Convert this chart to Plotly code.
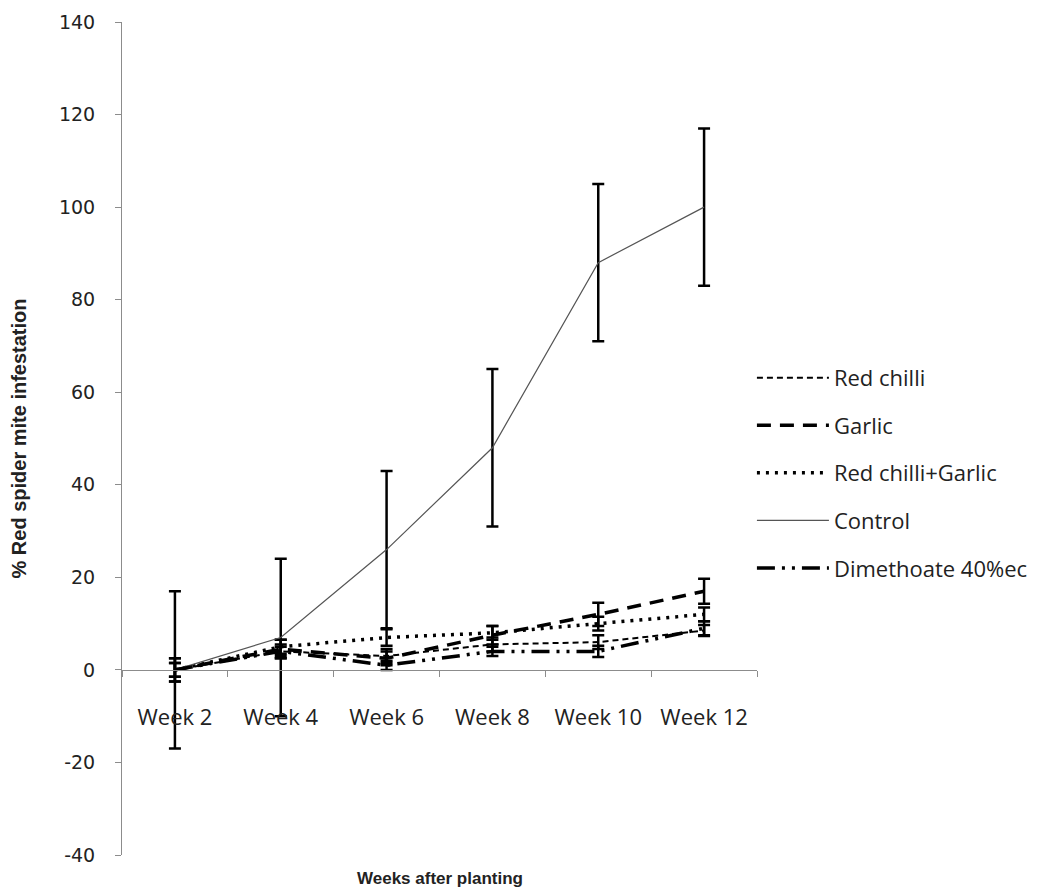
import plotly.graph_objects as go

weeks = ["Week 2", "Week 4", "Week 6", "Week 8", "Week 10", "Week 12"]

red_chilli = [0, 4, 3, 5.5, 6, 8.5]
red_chilli_err = [1.5, 1.5, 1.5, 1.5, 1.5, 1.2]

garlic = [0, 4.5, 2.5, 7.5, 12, 17]
garlic_err = [2.5, 2, 1.5, 2, 2.5, 2.7]

chilli_garlic = [0, 5, 7, 8, 10, 12]
chilli_garlic_err = [1.5, 1.5, 1.8, 1.5, 1.5, 1.5]

control = [0, 7, 26, 48, 88, 100]
control_err = [17, 17, 17, 17, 17, 17]

dimethoate = [0, 4, 1, 4, 4, 9]
dimethoate_err = [2.5, 1, 1, 1, 1.2, 1.5]

y_tick_values = [-40, -20, 0, 20, 40, 60, 80, 100, 120, 140]
y_tick_labels = ["-40", "-20", "0", "20", "40", "60", "80", "100", "120", "140"]

series = [
    ("Red chilli", red_chilli, red_chilli_err, dict(color="black", width=2, dash="6px,4px")),
    ("Garlic", garlic, garlic_err, dict(color="black", width=3.5, dash="14px,9px")),
    ("Red chilli+Garlic", chilli_garlic, chilli_garlic_err, dict(color="black", width=3.5, dash="3px,6px")),
    ("Control", control, control_err, dict(color="#555555", width=1.2)),
    ("Dimethoate 40%ec", dimethoate, dimethoate_err, dict(color="black", width=3.5, dash="18px,7px,3px,7px,3px,7px")),
]

fig = go.Figure()
for i, (name, vals, errs, line) in enumerate(series):
    fig.add_trace(go.Scatter(
        x=weeks, y=vals, name=name, mode="lines", line=line,
        legendgroup=f"g{i}",
        error_y=dict(type="data", array=errs, visible=True, color="black", thickness=2.5, width=6),
    ))

fig.update_layout(
    width=1035, height=882,
    margin=dict(l=114, r=286, t=14, b=35, autoexpand=False),
    plot_bgcolor="white", paper_bgcolor="white",
    font=dict(family="Liberation Sans", color="#222222"),
    showlegend=True,
    legend=dict(
        x=0.992, xanchor="left", y=0.598, yanchor="top",
        font=dict(family="Open Sans", size=22, color="#222222"),
        itemwidth=72, tracegroupgap=16, traceorder="grouped",
        bgcolor="rgba(0,0,0,0)",
    ),
    xaxis=dict(
        type="category", range=[-0.5, 5.5],
        anchor="free", position=(0 - (-40)) / 180,
        showline=True, linecolor="#8c8c8c", linewidth=1,
        ticks="outside", tickson="boundaries", ticklen=6, tickcolor="#8c8c8c",
        showgrid=False, zeroline=False,
        tickfont=dict(family="Open Sans", size=22, color="#222222"),
        ticklabelstandoff=28,
    ),
    yaxis=dict(
        range=[-40, 140], tickmode="array",
        tickvals=y_tick_values, ticktext=y_tick_labels,
        showline=True, linecolor="#8c8c8c", linewidth=1,
        ticks="outside", ticklen=6, tickcolor="#8c8c8c",
        showgrid=False, zeroline=False,
        tickfont=dict(family="DejaVu Sans", size=19, color="#222222"),
        ticklabelstandoff=16,
        title=dict(text="<b>% Red spider mite infestation</b>",
                   font=dict(family="Liberation Sans", size=20, color="#222222"),
                   standoff=26),
    ),
    annotations=[dict(
        text="<b>Weeks after planting</b>", xref="paper", yref="paper",
        x=(440 - 122) / 635, y=-0.028, yanchor="middle", showarrow=False,
        font=dict(family="Liberation Sans", size=17, color="#222222"),
    )],
)

fig.write_html("out.html")
